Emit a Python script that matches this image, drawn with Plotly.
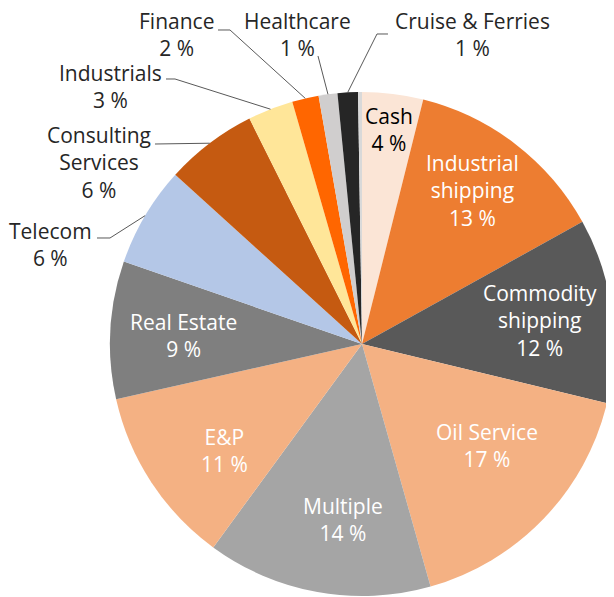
import math
import plotly.graph_objects as go

# ---- data ----
sectors = ["Cash", "Industrial<br>shipping", "Commodity<br>shipping", "Oil Service", "Multiple",
           "E&P", "Real Estate", "Telecom", "Consulting<br>Services", "Industrials",
           "Finance", "Healthcare", "Cruise & Ferries", ""]
shares = [3.9, 13.0, 11.8, 16.8, 14.4, 11.4, 8.8, 6.4, 5.9, 2.9, 1.7, 1.2, 1.3, 0.25]
colors = ["#FBE5D6", "#ED7D31", "#595959", "#F4B183", "#A5A5A5", "#F4B183", "#7F7F7F",
          "#B4C7E7", "#C55A11", "#FFE699", "#FF6600", "#D0CECE", "#262626", "#D9D9D9"]

# page body has an 8px default margin; figure sized to fit the 614x597 window
OFF = 8
W, H = 614 - OFF, 597 - OFF
CX, CY, R = 362, 344, 252  # pixel geometry of the pie in window coordinates


def px2paper(x, y):
    return (x - OFF) / W, 1 - (y - OFF) / H


x0, _ = px2paper(CX - R, 0)
x1, _ = px2paper(CX + R, 0)
_, y1 = px2paper(0, CY - R)
_, y0 = px2paper(0, CY + R)

fig = go.Figure(go.Pie(
    labels=[s if s else "other" for s in sectors], values=shares, sort=False,
    direction="clockwise", rotation=0,
    marker=dict(colors=colors, line=dict(width=0)),
    textinfo="none", hoverinfo="label+percent", showlegend=False,
    domain=dict(x=[max(0, x0), min(1, x1)], y=[max(0, y0), min(1, y1)]),
))

total = sum(shares)
mids = []
c = 0
for v in shares:
    mids.append((c + v / 2) / total * 2 * math.pi)
    c += v

FONT = "Open Sans"
FS = 21
annotations = []
shapes = []

# inside labels: index -> (label centre in window px, colour)
inside = {0: ((389, 130), "#000000"), 1: ((472, 190), "white"), 2: ((540, 320), "white"),
          3: ((487, 445), "white"), 4: ((343, 519), "white"), 5: ((224, 450), "white"),
          6: ((183, 335), "white")}
for i, ((x, y), col) in inside.items():
    px, py = px2paper(x, y)
    annotations.append(dict(x=px, y=py, xref="paper", yref="paper", showarrow=False,
                            text=f"{sectors[i]}<br>{shares[i]:.0f} %", align="center",
                            xanchor="center", yanchor="middle",
                            font=dict(family=FONT, size=FS, color=col)))

# outside labels: index -> (label centre, leader-line elbow points)
outside = {
    7: ((50, 244), [(97, 238), (110, 238)]),
    8: ((99, 163), [(155, 144)]),
    9: ((110, 86), [(166, 79), (175, 79)]),
    10: ((176, 35), [(218, 30), (230, 30)]),
    11: ((297, 35), [(318, 56)]),
    12: ((472, 35), [(388, 34), (377, 34)]),
}
for i, ((lx, ly), pts) in outside.items():
    px, py = px2paper(lx, ly)
    annotations.append(dict(x=px, y=py, xref="paper", yref="paper", showarrow=False,
                            text=f"{sectors[i]}<br>{shares[i]:.0f} %", align="center",
                            xanchor="center", yanchor="middle",
                            font=dict(family=FONT, size=FS, color="#262626")))
    a = mids[i]
    ex = CX + R * math.sin(a)
    ey = CY - R * math.cos(a)
    allpts = pts + [(ex, ey)]
    path = ""
    for k, (x, y) in enumerate(allpts):
        qx, qy = px2paper(x, y)
        path += ("M" if k == 0 else "L") + f"{qx:.5f},{qy:.5f} "
    shapes.append(dict(type="path", path=path, xref="paper", yref="paper",
                       line=dict(color="#595959", width=1)))

fig.update_layout(width=W, height=H, margin=dict(l=0, r=0, t=0, b=0),
                  paper_bgcolor="white", plot_bgcolor="white",
                  annotations=annotations, shapes=shapes)

fig.write_html("out.html")
